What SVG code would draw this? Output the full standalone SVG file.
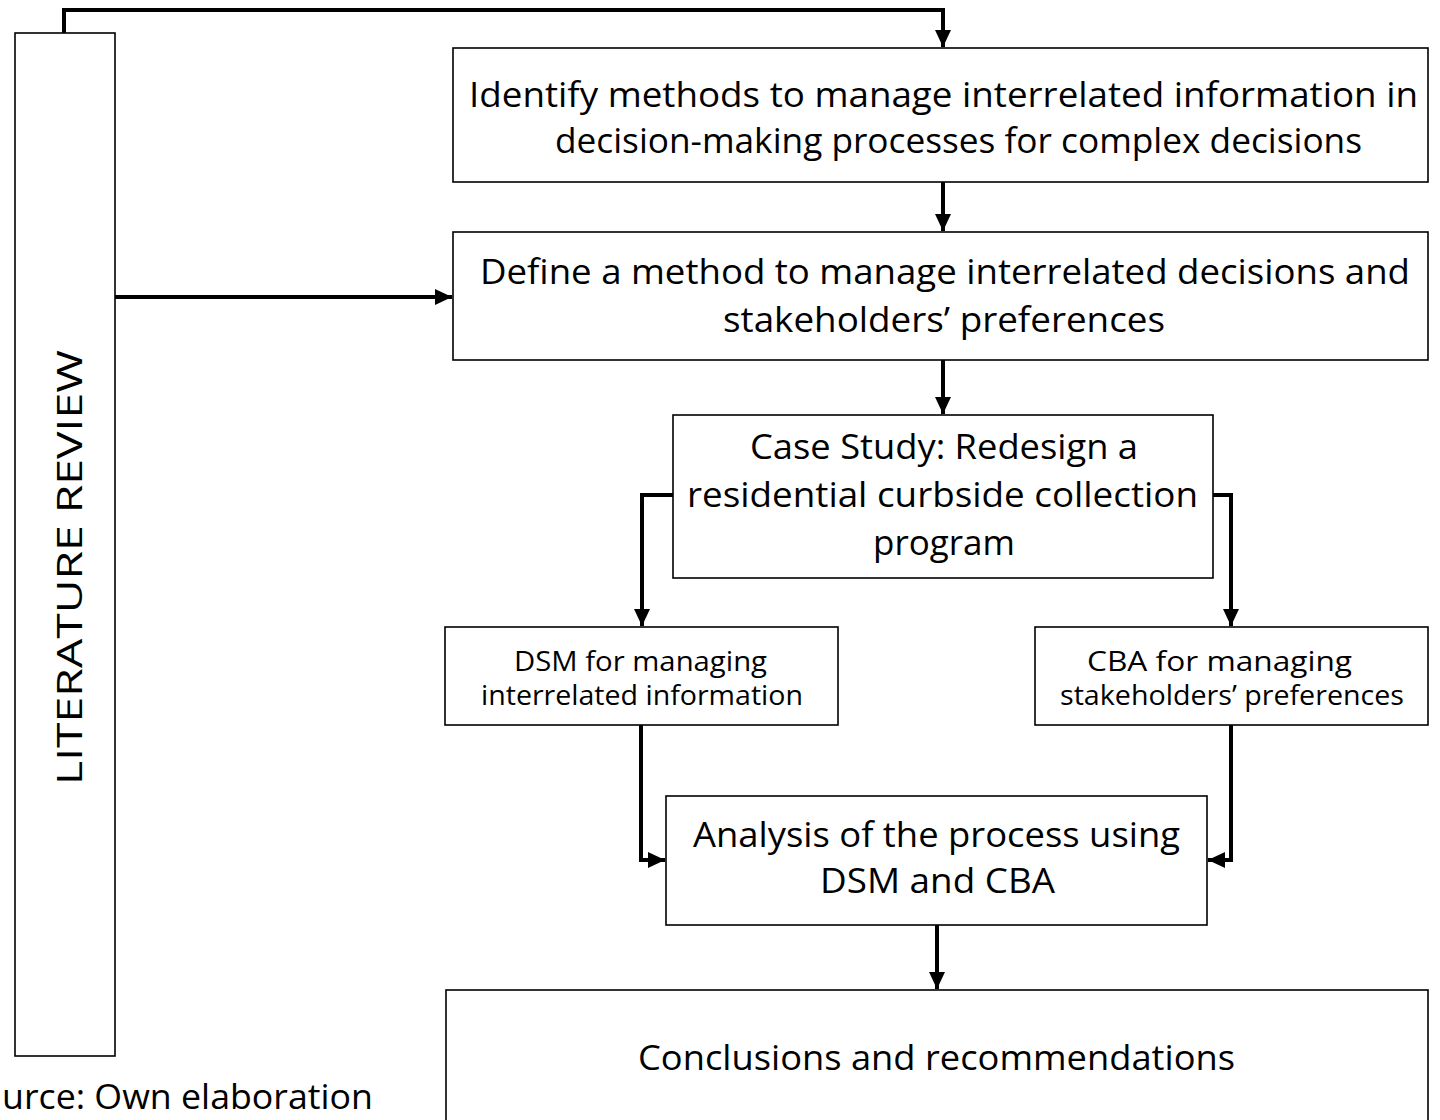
<svg xmlns="http://www.w3.org/2000/svg" width="1440" height="1120" viewBox="0 0 1440 1120">
<style>
.box{fill:#fff;stroke:#000;stroke-width:1.6}
.t{font-family:"Open Sans","Noto Sans",sans-serif;font-size:35px;fill:#000;text-anchor:middle}
.s{font-size:27px}
.c{fill:none;stroke:#000;stroke-width:4;stroke-linejoin:miter}
</style>
<defs>
<marker id="ah" markerUnits="userSpaceOnUse" markerWidth="18" markerHeight="18" viewBox="0 0 18 18" refX="17" refY="9" orient="auto">
<path d="M0,1 L17,9 L0,17 Z" fill="#000"/>
</marker>
</defs>
<g id="lit-review">
<rect class="box" x="15" y="33" width="100" height="1023"/>
<text class="t" transform="translate(82,567.5) rotate(-90)" textLength="435" lengthAdjust="spacingAndGlyphs" font-size="47">LITERATURE REVIEW</text>
</g>
<g id="n1">
<rect class="box" x="453" y="48" width="975" height="134"/>
<text class="t" x="943.5" y="107" textLength="949" lengthAdjust="spacingAndGlyphs">Identify methods to manage interrelated information in</text>
<text class="t" x="958.5" y="153" textLength="807" lengthAdjust="spacingAndGlyphs">decision-making processes for complex decisions</text>
</g>
<g id="n2">
<rect class="box" x="453" y="232" width="975" height="128"/>
<text class="t" x="945" y="284" textLength="930" lengthAdjust="spacingAndGlyphs">Define a method to manage interrelated decisions and</text>
<text class="t" x="944" y="332" textLength="442" lengthAdjust="spacingAndGlyphs">stakeholders’ preferences</text>
</g>
<g id="n3">
<rect class="box" x="673" y="415" width="540" height="163"/>
<text class="t" x="944" y="459" textLength="388" lengthAdjust="spacingAndGlyphs">Case Study: Redesign a</text>
<text class="t" x="942.5" y="507" textLength="511" lengthAdjust="spacingAndGlyphs">residential curbside collection</text>
<text class="t" x="944" y="555" textLength="142" lengthAdjust="spacingAndGlyphs">program</text>
</g>
<g id="n4">
<rect class="box" x="445" y="627" width="393" height="98"/>
<text class="t s" x="640.5" y="671" textLength="253" lengthAdjust="spacingAndGlyphs">DSM for managing</text>
<text class="t s" x="642" y="705" textLength="322" lengthAdjust="spacingAndGlyphs">interrelated information</text>
</g>
<g id="n5">
<rect class="box" x="1035" y="627" width="393" height="98"/>
<text class="t s" x="1219.5" y="671" textLength="265" lengthAdjust="spacingAndGlyphs">CBA for managing</text>
<text class="t s" x="1232" y="705" textLength="344" lengthAdjust="spacingAndGlyphs">stakeholders’ preferences</text>
</g>
<g id="n6">
<rect class="box" x="666" y="796" width="541" height="129"/>
<text class="t" x="936.5" y="847" textLength="487" lengthAdjust="spacingAndGlyphs">Analysis of the process using</text>
<text class="t" x="937.5" y="893" textLength="235" lengthAdjust="spacingAndGlyphs">DSM and CBA</text>
</g>
<g id="n7">
<rect class="box" x="446" y="990" width="982" height="140"/>
<text class="t" x="936.5" y="1070" textLength="597" lengthAdjust="spacingAndGlyphs">Conclusions and recommendations</text>
</g>
<text class="t" x="2" y="1109" font-size="34" style="text-anchor:start" textLength="371" lengthAdjust="spacingAndGlyphs">urce: Own elaboration</text>
<g id="connectors">
<path class="c" d="M64,33 V10 H943 V47" marker-end="url(#ah)"/>
<path class="c" d="M943,182 V231" marker-end="url(#ah)"/>
<path class="c" d="M115,297 H452" marker-end="url(#ah)"/>
<path class="c" d="M943,360 V414" marker-end="url(#ah)"/>
<path class="c" d="M673,495 H642 V626" marker-end="url(#ah)"/>
<path class="c" d="M1213,495 H1231 V626" marker-end="url(#ah)"/>
<path class="c" d="M641,725 V860 H665" marker-end="url(#ah)"/>
<path class="c" d="M1231,725 V860 H1208" marker-end="url(#ah)"/>
<path class="c" d="M937,925 V989" marker-end="url(#ah)"/>
</g>
</svg>
